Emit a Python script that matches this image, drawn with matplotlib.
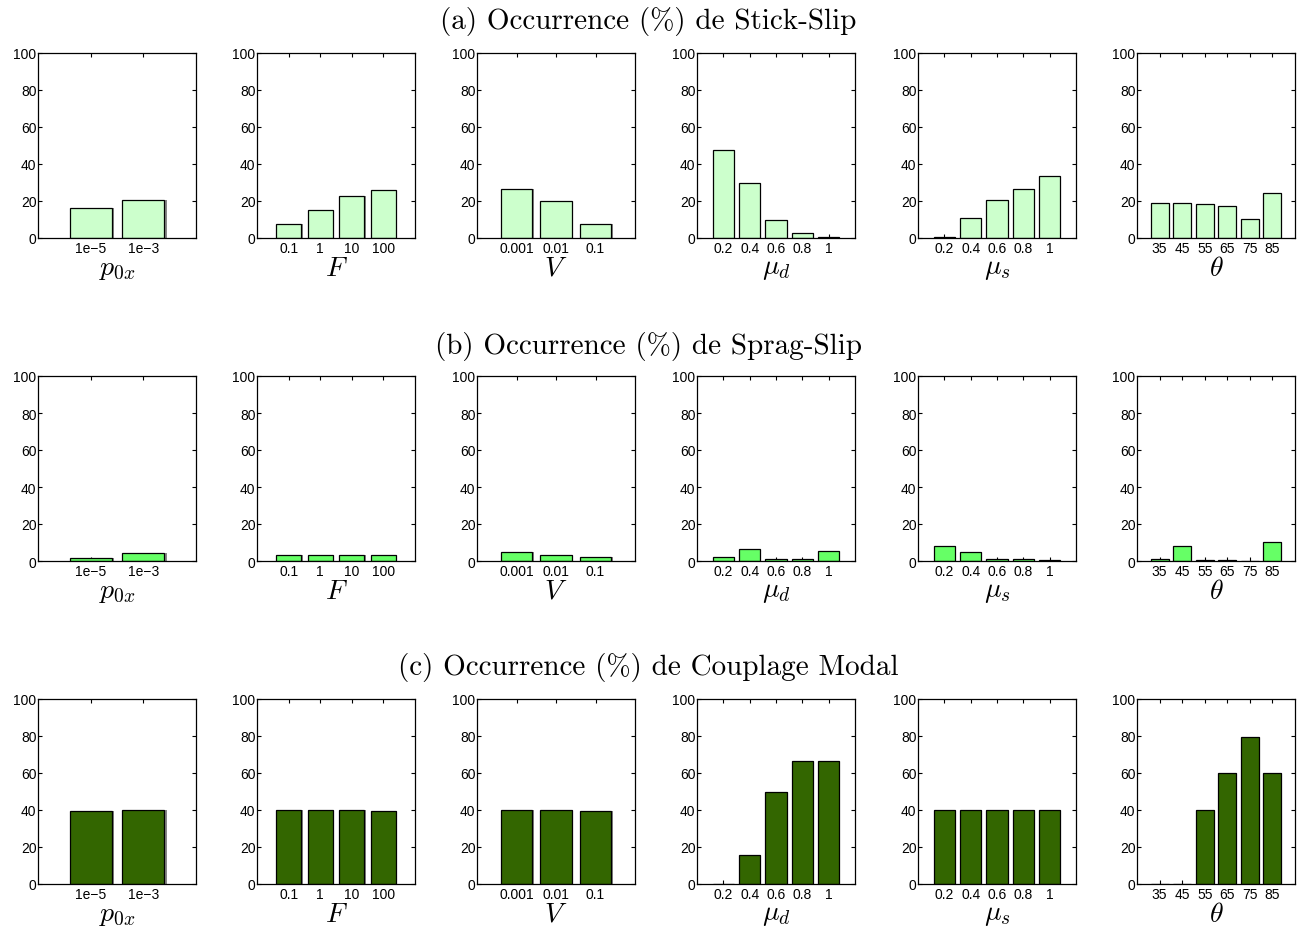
import numpy as np
import matplotlib
matplotlib.use("Agg")
import matplotlib.pyplot as plt

plt.rcParams['mathtext.fontset'] = 'cm'
plt.rcParams['font.family'] = ['Liberation Sans', 'DejaVu Sans']

# parameter names and tick labels
params = [r'$p_{0x}$', r'$F$', r'$V$', r'$\mu_d$', r'$\mu_s$', r'$\theta$']
ticklabels = [
    ['1e\u22125', '1e\u22123'],
    ['0.1', '1', '10', '100'],
    ['0.001', '0.01', '0.1'],
    ['0.2', '0.4', '0.6', '0.8', '1'],
    ['0.2', '0.4', '0.6', '0.8', '1'],
    ['35', '45', '55', '65', '75', '85'],
]

# (a) stick-slip occurrence (%)
stick_slip = [
    [16.0, 20.3],
    [7.8, 15.3, 22.9, 26.2],
    [26.5, 19.8, 7.8],
    [47.5, 29.5, 9.5, 2.5, 0.3],
    [0.3, 10.6, 20.4, 26.5, 33.3],
    [18.8, 19.0, 18.2, 17.3, 10.4, 24.3],
]
# (b) sprag-slip occurrence (%)
sprag_slip = [
    [1.8, 4.5],
    [3.5, 3.2, 3.2, 3.4],
    [4.6, 3.0, 1.9],
    [2.0, 6.3, 0.9, 1.3, 5.5],
    [8.2, 5.0, 1.3, 0.9, 0.7],
    [1.3, 7.9, 0.5, 0.3, 0.0, 10.3],
]
# (c) modal coupling occurrence (%)
couplage = [
    [39.6, 39.9],
    [40.0, 40.0, 40.0, 39.6],
    [40.0, 40.0, 39.6],
    [0.0, 15.7, 49.8, 66.7, 66.7],
    [40.0, 40.0, 40.0, 40.0, 40.0],
    [0.0, 0.0, 40.0, 60.0, 79.2, 60.0],
]

titles = ['(a) Occurrence (%) de Stick-Slip',
          '(b) Occurrence (%) de Sprag-Slip',
          '(c) Occurrence (%) de Couplage Modal']
colors = ['#ccffcc', '#66ff66', '#336600']
rows = [stick_slip, sprag_slip, couplage]

W, H = 1297, 928
fig = plt.figure(figsize=(W / 100, H / 100), dpi=100)

lefts = [38, 257, 477, 697, 918, 1137]
tops = [54, 377, 700]
title_y = [22, 347, 668]
aw, ah = 158, 185

for r, data in enumerate(rows):
    fig.text(0.5, 1 - title_y[r] / H, titles[r], ha='center', va='center',
             fontsize=21, family='cmr10')
    for c, vals in enumerate(data):
        ax = fig.add_axes([lefts[c] / W, 1 - (tops[r] + ah) / H, aw / W, ah / H])
        x = np.arange(1, len(vals) + 1)
        # faint grey shadow like the original renderer
        ax.bar(x + 0.04, vals, width=0.8, color='#888888', linewidth=0, zorder=1)
        ax.bar(x, vals, width=0.8, color=colors[r], edgecolor='black',
               linewidth=0.9, zorder=2)
        ax.set_xlim(0, len(vals) + 1)
        ax.set_ylim(0, 100)
        ax.set_yticks(np.arange(0, 101, 20))
        ax.set_xticks(x)
        ax.set_xticklabels(ticklabels[c])
        ax.tick_params(direction='in', length=3, width=0.8, top=True, right=True,
                       labelsize=10, pad=2)
        ax.tick_params(axis='y', pad=1)
        for s in ax.spines.values():
            s.set_linewidth(0.9)
            s.set_zorder(3)
        ax.set_xlabel(params[c], fontsize=20, labelpad=0)

fig.savefig('out.png', dpi=100)
